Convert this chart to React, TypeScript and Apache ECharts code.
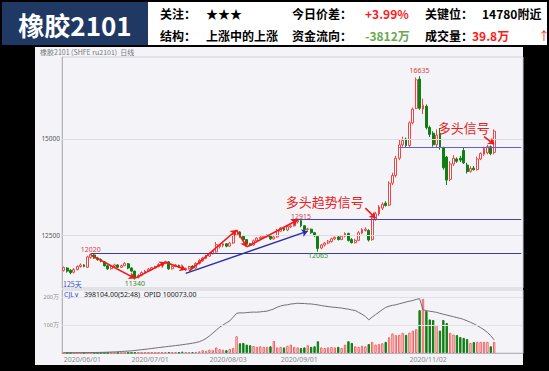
import React, { useEffect, useRef } from 'react';
import * as echarts from 'echarts';

// ---------- categories ----------
const MONTH_DAYS: [string, number[]][] = [
  ['2020/06', [1, 2, 3, 4, 5, 8, 9, 10, 11, 12, 15, 16, 17, 18, 19, 22, 23, 24, 29, 30]],
  ['2020/07', [1, 2, 3, 6, 7, 8, 9, 10, 13, 14, 15, 16, 17, 20, 21, 22, 23, 24, 27, 28, 29, 30, 31]],
  ['2020/08', [3, 4, 5, 6, 7, 10, 11, 12, 13, 14, 17, 18, 19, 20, 21, 24, 25, 26, 27, 28, 31]],
  ['2020/09', [1, 2, 3, 4, 7, 8, 9, 10, 11, 14, 15, 16, 17, 18, 21, 22, 23, 24, 25, 28, 29, 30]],
  ['2020/10', [9, 12, 13, 14, 15, 16, 19, 20, 21, 22, 23, 26, 27, 28, 29, 30]],
  ['2020/11', [2, 3, 4, 5, 6, 9, 10, 11, 12, 13, 16, 17, 18, 19, 20, 23, 24, 25, 26, 27, 30]],
  ['2020/12', [1, 2, 3, 4, 7, 8, 9, 10, 11, 14, 15, 16, 17]],
];
const DATES: string[] = MONTH_DAYS.flatMap(([m, ds]) => ds.map((d) => `${m}/${String(d).padStart(2, '0')}`));
const X_LABEL_DATES = ['2020/06/01', '2020/07/01', '2020/08/03', '2020/09/01', '2020/11/02'];

// ---------- tick labels ----------
const PRICE_TICKS = [12500, 15000];
const VOLUME_TICKS = [100, 200]; // 万手

// ---------- series values: [open, close, low, high] ----------
const OHLC: number[][] = [
  [11580, 11650, 11550, 11680], [11640, 11560, 11520, 11660], [11580, 11520, 11480, 11610], [11530, 11600, 11500, 11640], [11600, 11680, 11580, 11710],
  [11680, 11720, 11650, 11760], [11720, 11680, 11660, 11740], [11660, 11930, 11640, 11960], [11920, 11990, 11880, 12020], [11980, 11900, 11880, 12000],
  [11900, 11860, 11830, 11930], [11860, 11820, 11790, 11890], [11800, 11700, 11680, 11820], [11700, 11620, 11590, 11720], [11620, 11680, 11600, 11710],
  [11680, 11720, 11660, 11750], [11720, 11660, 11640, 11740], [11660, 11700, 11640, 11730], [11700, 11760, 11690, 11790], [11750, 11640, 11610, 11770],
  [11640, 11560, 11540, 11660], [11560, 11400, 11340, 11570], [11400, 11450, 11370, 11480], [11450, 11520, 11420, 11550], [11510, 11560, 11490, 11590],
  [11560, 11610, 11540, 11640], [11600, 11650, 11580, 11670], [11640, 11680, 11620, 11700], [11680, 11730, 11660, 11760], [11720, 11770, 11700, 11800],
  [11760, 11810, 11740, 11830], [11800, 11620, 11590, 11820], [11620, 11680, 11600, 11710], [11680, 11720, 11660, 11740], [11710, 11660, 11640, 11730],
  [11660, 11600, 11580, 11680], [11590, 11630, 11560, 11650], [11630, 11680, 11600, 11700], [11690, 11640, 11610, 11710], [11640, 11760, 11620, 11790],
  [11760, 11840, 11730, 11880], [11830, 11900, 11800, 11930], [11890, 11960, 11870, 11990], [11950, 12020, 11930, 12050], [12020, 12080, 11990, 12110],
  [12060, 12250, 12040, 12320], [12200, 12240, 12150, 12260], [12230, 12270, 12180, 12300], [12270, 12210, 12180, 12290], [12210, 12290, 12190, 12320],
  [12290, 12520, 12270, 12550], [12500, 12590, 12470, 12630], [12580, 12460, 12430, 12600], [12460, 12380, 12350, 12480], [12380, 12260, 12190, 12390],
  [12270, 12230, 12200, 12290], [12240, 12350, 12220, 12380], [12350, 12420, 12320, 12440], [12410, 12440, 12380, 12470], [12430, 12470, 12400, 12500],
  [12460, 12490, 12430, 12520], [12480, 12400, 12370, 12500], [12400, 12450, 12380, 12480], [12450, 12620, 12430, 12660], [12600, 12680, 12580, 12700],
  [12670, 12630, 12600, 12690], [12630, 12720, 12600, 12750], [12710, 12740, 12680, 12770], [12740, 12850, 12720, 12880], [12840, 12880, 12800, 12915],
  [12870, 12740, 12700, 12890], [12740, 12640, 12600, 12760], [12640, 12660, 12620, 12690], [12650, 12560, 12530, 12670], [12560, 12480, 12450, 12580],
  [12460, 12150, 12065, 12470], [12160, 12240, 12130, 12270], [12240, 12290, 12200, 12320], [12290, 12340, 12260, 12370], [12330, 12400, 12300, 12430],
  [12400, 12440, 12370, 12460], [12450, 12380, 12360, 12470], [12380, 12470, 12370, 12500], [12470, 12540, 12440, 12570], [12540, 12360, 12330, 12560],
  [12380, 12300, 12280, 12420], [12300, 12360, 12280, 12400], [12360, 12560, 12340, 12600], [12550, 12640, 12520, 12680], [12620, 12650, 12590, 12700],
  [12620, 12370, 12330, 12650], [12380, 12920, 12350, 12960], [12900, 13050, 12870, 13100], [13050, 13230, 13000, 13280], [13200, 13300, 13150, 13350],
  [13330, 13270, 13240, 13380], [13280, 13850, 13250, 13900], [13850, 14050, 13800, 14120], [14050, 14500, 14000, 14560], [14500, 14850, 14450, 14980],
  [14850, 14960, 14800, 15060], [15000, 14830, 14790, 15040], [14830, 15420, 14780, 15460], [15420, 15780, 15380, 15820], [15800, 16540, 15780, 16600],
  [16560, 15800, 15760, 16635], [15780, 15880, 15650, 16050], [15850, 15300, 15250, 15900], [15300, 15120, 15050, 15350], [15150, 14850, 14800, 15200],
  [14850, 15100, 14780, 15250], [15150, 14800, 14720, 15280], [14780, 14250, 14200, 14800], [14530, 13930, 13800, 14560], [13950, 14350, 13900, 14420],
  [14350, 14500, 14300, 14580], [14480, 14420, 14380, 14520], [14500, 14450, 14400, 14560], [14700, 14380, 14350, 14780], [14320, 14150, 14100, 14380],
  [14160, 14230, 14120, 14290], [14240, 14200, 14180, 14300], [14200, 14480, 14180, 14540], [14480, 14620, 14450, 14650], [14600, 14760, 14560, 14800],
  [14640, 14800, 14600, 14850], [14800, 14620, 14580, 14830], [14650, 15205, 14600, 15250],
];

// volume, 万手
const VOLUME: number[] = [
  0.3, 0.2, 0.4, 0.3, 0.5, 0.3, 0.4, 0.8, 0.6, 0.5, 0.4, 0.6, 0.5, 0.4, 0.6, 0.5, 0.7, 0.6, 0.8, 0.7,
  1.0, 1.5, 1.2, 1.0, 1.3, 1.1, 1.4, 1.6, 1.8, 2.0, 2.2, 3.0, 2.0, 2.4, 2.2, 5.0, 3.0, 3.5, 3.2, 4.0,
  6, 10, 8, 12, 10, 20, 14, 12, 10, 15, 18, 60, 35, 36, 30, 28, 25, 22, 24, 22,
  22, 24, 43, 20, 22, 20, 26, 30, 22, 20, 18, 20, 28, 22, 24, 42, 20, 18, 20, 22,
  20, 22, 18, 30, 42, 36, 24, 22, 26, 24, 32, 40, 30, 32, 35, 40, 56, 70, 64, 65,
  72, 65, 73, 80, 85, 153, 193, 150, 120, 118, 100, 80, 118, 107, 72, 66, 64, 57, 54, 50,
  36, 39, 40, 40, 40, 40, 24, 39.8,
];

// open interest, 千手
const OPI: number[] = [
  1.5, 1.8, 2.0, 2.1, 2.3, 2.6, 2.9, 3.3, 3.6, 3.9, 4.2,
  4.8, 5.5, 6.5, 7.4, 8.6, 9.8, 11.5, 13.0, 14.8, 16.5,
  19.5, 22.8, 25.6, 28.4, 31.5, 35.0, 38.2, 41.6, 44.7, 47.9,
  51.2, 54.0, 57.3, 60.1, 63.8, 67.5, 71.0, 75.6, 80.4, 87.2,
  97.5, 112.0, 131.4, 152.8, 176.0,
  198.3, 215.6, 232.0, 247.5, 276.3, 305.8,
  309.1, 308.4, 311.2, 313.5, 315.0, 314.2, 316.8, 319.7, 322.4,
  330.6, 339.2, 352.8, 361.5, 368.4, 370.9,
  377.3, 379.6, 383.2, 381.5, 380.8, 378.4,
  377.6, 374.0, 370.3, 365.2, 361.0, 357.6, 353.8, 351.4, 348.7, 345.9,
  341.2, 337.5, 331.6, 326.8,
  312.4, 298.7, 281.5, 255.3,
  276.8, 295.4, 314.6, 333.8, 351.2,
  360.5, 366.8, 371.4, 378.9, 385.3, 392.7, 398.6, 404.2,
  412.5, 418.0,
  332.4,
  326.0, 321.5, 317.8, 312.6, 305.4, 298.7, 292.3, 285.6, 279.4, 272.1,
  266.5, 258.2, 247.6, 236.4, 224.1, 210.8, 195.3, 178.4, 158.6, 133.5, 100.073,
];

// ---------- annotations (data space: [category index, price]) ----------
const TREND_ARROWS: number[][][] = [
  [[8, 11980], [21, 11370]],
  [[21, 11370], [30, 11790]],
  [[30, 11790], [36, 11600]],
  [[37, 11560], [51, 12630]],
  [[51, 12630], [54, 12190]],
  [[54, 12190], [69, 12890]],
];
const TREND_LINE: number[][] = [[36, 11500], [72, 12600]];
const LEVELS = [
  { from: 8, value: 12020, color: '#3c3ca0' },
  { from: 67, value: 12915, color: '#4848a8' },
  { from: 99, value: 14780, color: '#6060d8' },
];
const LEVEL_END = 135;
const SIGNAL_ARROWS: number[][][] = [
  [[89, 13200], [92, 12935]],
  [[124, 15060], [127, 14860]],
];
const PRICE_NOTES = [
  { idx: 8, price: 12110, text: '12020', color: '#e03a3a' },
  { idx: 21, price: 11225, text: '11340', color: '#2e8b2e' },
  { idx: 70, price: 12990, text: '12915', color: '#e03a3a' },
  { idx: 75, price: 11975, text: '12065', color: '#2e8b2e' },
  { idx: 105, price: 16775, text: '16635', color: '#e03a3a' },
];
const SIGNAL_NOTES = [
  { idx: 77, price: 13380, text: '多头趋势信号' },
  { idx: 118, price: 15290, text: '多头信号' },
];

// ---------- header texts ----------
const HEADER_TITLE = '橡胶2101';
const HEADER_ROW1 = [
  { t: '关注：', c: '#000' }, { t: '★★★', c: '#000' }, { t: '今日价差：', c: '#000' },
  { t: '+3.99%', c: '#ff1a1a' }, { t: '关键位：', c: '#000' }, { t: '14780附近', c: '#000' },
];
const HEADER_ROW2 = [
  { t: '结构：', c: '#000' }, { t: '上涨中的上涨', c: '#000' }, { t: '资金流向：', c: '#000' },
  { t: '-3812万', c: '#6aa84f' }, { t: '成交量：', c: '#000' }, { t: '39.8万', c: '#ff1a1a' },
];

const UP = '#f04545';
const DOWN = '#0f7f12';
const CJK = '"Noto Sans CJK SC", "Noto Sans", sans-serif';

export default function App() {
  const ref = useRef<HTMLDivElement>(null);
  useEffect(() => {
    if (!ref.current) return;
    const chart = echarts.init(ref.current, null, { renderer: 'svg' });

    const row1X = [160, 206, 292, 365, 425, 482];
    const row2X = [160, 206, 292, 365, 425, 472];
    const headerTexts: any[] = [];
    HEADER_ROW1.forEach((h, i) =>
      headerTexts.push({ type: 'text', x: row1X[i], y: 13, z: 20, style: { text: h.t, fill: h.c, font: `bold 12px ${CJK}`, verticalAlign: 'middle' } })
    );
    HEADER_ROW2.forEach((h, i) =>
      headerTexts.push({ type: 'text', x: row2X[i], y: 35, z: 20, style: { text: h.t, fill: h.c, font: `bold 12px ${CJK}`, verticalAlign: 'middle' } })
    );

    const volumeData = VOLUME.map((v, i) => {
      const up = OHLC[i][1] >= OHLC[i][0];
      return {
        value: v,
        itemStyle: up
          ? { color: '#ffffff', borderColor: '#f06060', borderWidth: 1 }
          : { color: DOWN, borderColor: DOWN, borderWidth: 1 },
      };
    });

    const markLineData: any[] = [
      ...PRICE_TICKS.map((v) => ({ yAxis: v, lineStyle: { color: '#dcdce2', width: 1, type: 'solid' } })),
      ...LEVELS.map((l) => [
        { coord: [l.from, l.value], lineStyle: { color: l.color, width: 1, type: 'solid' } },
        { coord: [LEVEL_END, l.value] },
      ]),
      ...TREND_ARROWS.map(([a, b]) => [
        { coord: a, symbol: 'none', lineStyle: { color: '#f01818', width: 1.6, type: 'solid' } },
        { coord: b, symbol: 'arrow', symbolSize: 6 },
      ]),
      [
        { coord: TREND_LINE[0], symbol: 'none', lineStyle: { color: '#2a2aa8', width: 1.4, type: 'solid' } },
        { coord: TREND_LINE[1], symbol: 'arrow', symbolSize: 6 },
      ],
      ...SIGNAL_ARROWS.map(([a, b]) => [
        { coord: a, symbol: 'none', lineStyle: { color: '#f01818', width: 1.6, type: 'solid' } },
        { coord: b, symbol: 'arrow', symbolSize: 6 },
      ]),
    ];

    const markPointData: any[] = [
      ...PRICE_NOTES.map((n) => ({
        coord: [n.idx, n.price],
        label: { show: true, position: 'inside', formatter: n.text, color: n.color, fontSize: 7, fontFamily: 'Noto Sans' },
      })),
      ...SIGNAL_NOTES.map((n) => ({
        coord: [n.idx, n.price],
        label: { show: true, position: 'inside', formatter: n.text, color: '#ea2020', fontSize: 13, fontFamily: CJK, lineHeight: 13 },
      })),
    ];

    const option: any = {
      animation: false,
      backgroundColor: '#000000',
      textStyle: { fontFamily: 'Noto Sans, sans-serif' },
      graphic: [
        { type: 'rect', z: -10, shape: { x: 2, y: 2, width: 545, height: 43 }, style: { fill: '#ffffff' } },
        { type: 'rect', z: -9, shape: { x: 2, y: 2, width: 146, height: 43 }, style: { fill: '#1f3864' } },
        { type: 'text', z: 20, x: 75, y: 24, style: { text: HEADER_TITLE, fill: '#ffffff', font: `bold 26px ${CJK}`, align: 'center', verticalAlign: 'middle' } },
        ...headerTexts,
        { type: 'text', z: 20, x: 538, y: 35, style: { text: '↑', fill: '#ff1a1a', font: `12px ${CJK}`, verticalAlign: 'middle' } },
        { type: 'rect', z: -10, shape: { x: 35, y: 47, width: 488, height: 318 }, style: { fill: '#f4f4f8' } },
        { type: 'text', z: 20, x: 40, y: 52, style: { text: '橡胶2101 (SHFE ru2101)  日线', fill: '#777', font: `7px ${CJK}`, verticalAlign: 'middle' } },
        { type: 'text', z: 20, x: 63, y: 284, style: { text: '125天', fill: '#3350c8', font: `7px ${CJK}`, verticalAlign: 'middle' } },
        { type: 'text', z: 20, x: 64, y: 294, style: { text: 'CJL∨', fill: '#3350c8', font: '7px Noto Sans', verticalAlign: 'middle' } },
        { type: 'text', z: 20, x: 84, y: 294, style: { text: '398104.00(52:48)  OPID 100073.00', fill: '#222', font: '7px Noto Sans', verticalAlign: 'middle' } },
      ],
      grid: [
        { left: 62, right: 26, top: 57, height: 231, show: true, borderColor: '#cfcfd6', borderWidth: 1, backgroundColor: 'transparent' },
        { left: 62, right: 26, top: 290, height: 63, show: true, borderColor: '#cfcfd6', borderWidth: 1, backgroundColor: 'transparent' },
      ],
      xAxis: [
        {
          type: 'category', gridIndex: 0, data: DATES, boundaryGap: true,
          axisLine: { show: false }, axisTick: { show: false }, axisLabel: { show: false }, splitLine: { show: false },
        },
        {
          type: 'category', gridIndex: 1, data: DATES, boundaryGap: true,
          axisLine: { show: true, lineStyle: { color: '#b4b4bc' } }, axisTick: { show: false }, splitLine: { show: false },
          axisLabel: {
            interval: (_i: number, v: string) => X_LABEL_DATES.includes(v),
            align: 'left', fontSize: 7, color: '#8a8a8a', margin: 3,
          },
        },
      ],
      yAxis: [
        {
          type: 'value', gridIndex: 0, min: 11120, max: 17135, scale: true,
          axisLine: { show: true, lineStyle: { color: '#b4b4bc' } }, axisTick: { show: false }, splitLine: { show: false },
          axisLabel: { customValues: PRICE_TICKS, formatter: (v: number) => String(v), fontSize: 6.5, color: '#555', margin: 2 },
        },
        {
          type: 'value', gridIndex: 1, min: 0, max: 225,
          axisLine: { show: true, lineStyle: { color: '#b4b4bc' } }, axisTick: { show: false }, splitLine: { show: false },
          axisLabel: { customValues: VOLUME_TICKS, formatter: (v: number) => `${v}万`, fontSize: 5.5, color: '#888', margin: 3 },
        },
        { type: 'value', gridIndex: 1, min: 0, max: 485, show: false, splitLine: { show: false } },
      ],
      series: [
        {
          type: 'candlestick', xAxisIndex: 0, yAxisIndex: 0, data: OHLC, barWidth: '70%',
          itemStyle: { color: '#ffffff', color0: DOWN, borderColor: UP, borderColor0: DOWN, borderWidth: 1 },
          markLine: { silent: true, symbol: ['none', 'none'], label: { show: false }, animation: false, data: markLineData },
          markPoint: {
            silent: true, symbol: 'circle', symbolSize: 1, itemStyle: { color: 'rgba(0,0,0,0)' }, animation: false,
            data: markPointData,
          },
        },
        {
          type: 'bar', xAxisIndex: 1, yAxisIndex: 1, data: volumeData, barWidth: '70%',
          markLine: {
            silent: true, symbol: ['none', 'none'], label: { show: false }, animation: false,
            data: VOLUME_TICKS.map((v) => ({ yAxis: v, lineStyle: { color: '#e2e2e8', width: 1, type: 'solid' } })),
          },
        },
        {
          type: 'line', xAxisIndex: 1, yAxisIndex: 2, data: OPI, symbol: 'none',
          lineStyle: { color: '#707070', width: 1 },
        },
      ],
    };
    chart.setOption(option);
    return () => chart.dispose();
  }, []);
  return <div ref={ref} style={{ position: 'fixed', left: 0, top: 0, width: 549, height: 371 }} />;
}
